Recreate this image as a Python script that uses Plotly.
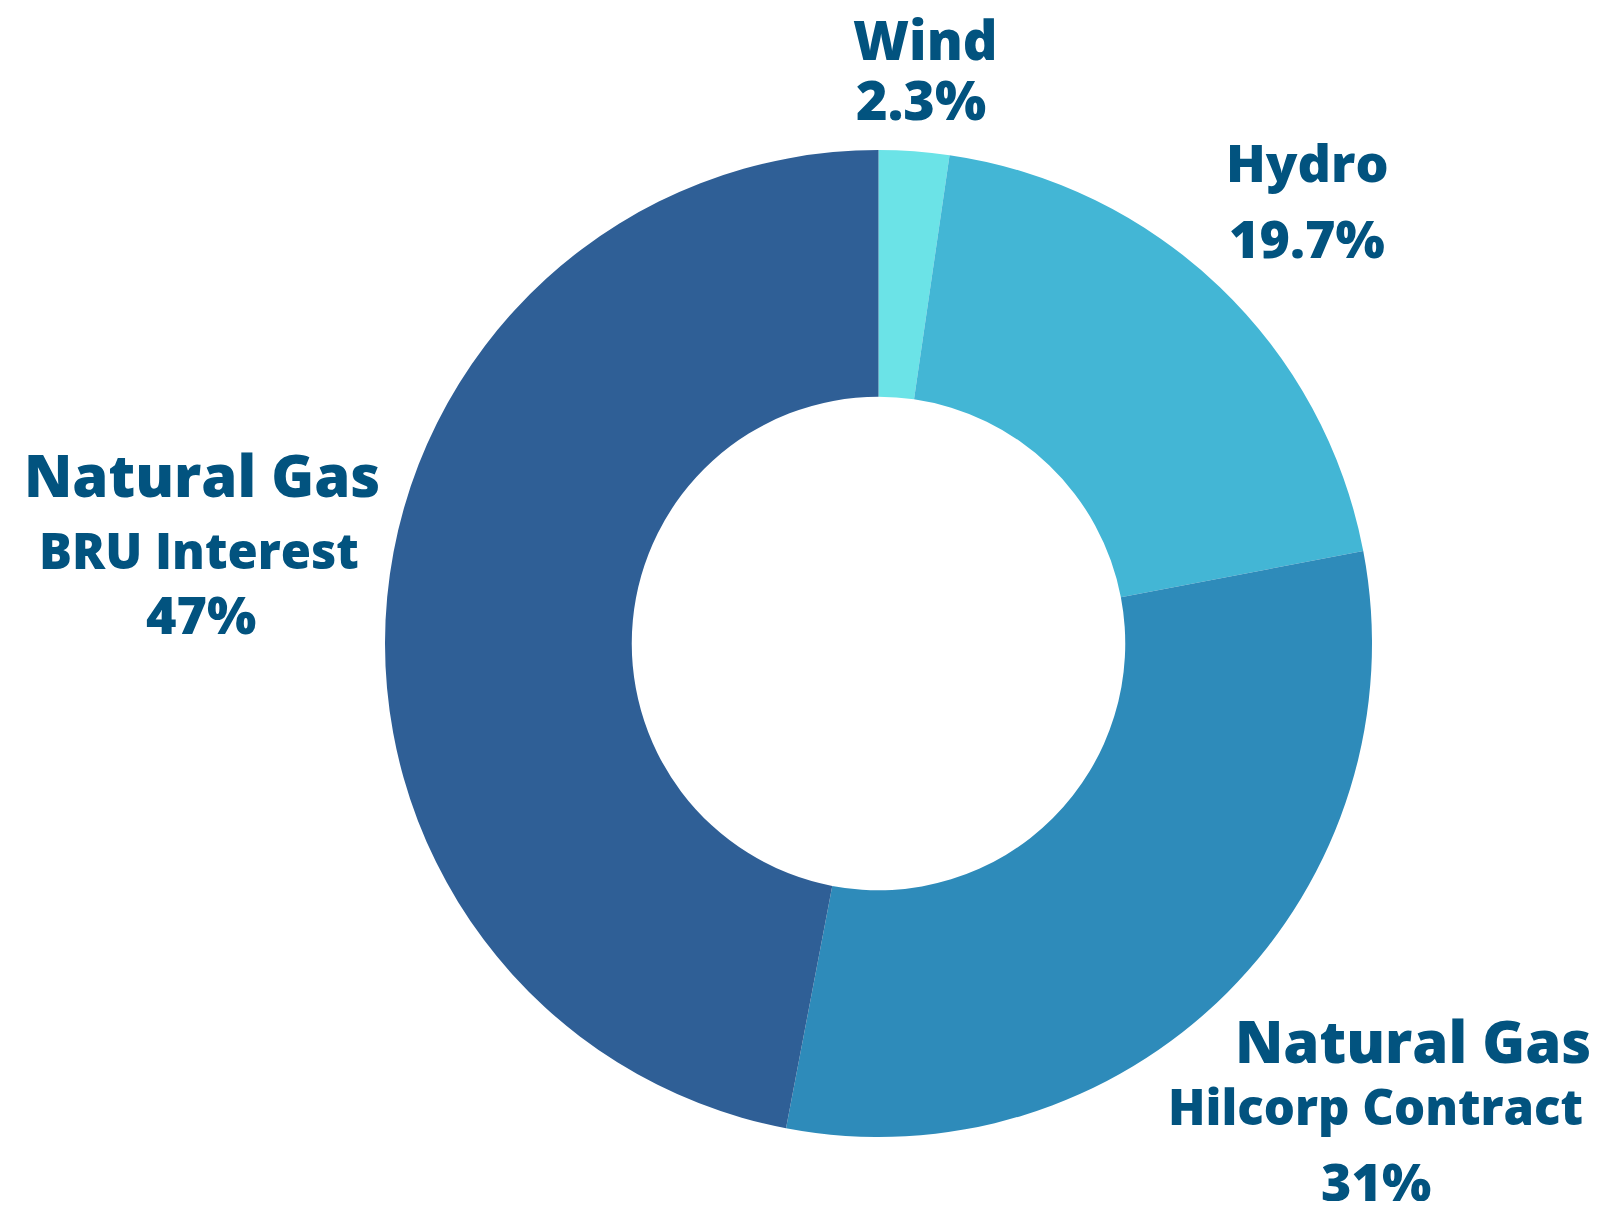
import plotly.graph_objects as go

W, H = 1603, 1209
OFF = 8  # page body margin
FW, FH = W - 2 * OFF, H - 2 * OFF

categories = ["Wind", "Hydro", "Natural Gas Hilcorp Contract", "Natural Gas BRU Interest"]
values = [2.3, 19.7, 31, 47]
value_labels = ["2.3%", "19.7%", "31%", "47%"]
colors = ["#6BE3E7", "#43B6D5", "#2E8BBA", "#2F5F96"]

TEXT = "#02537F"
FONT = "Open Sans"

cx, cy, r = 878.5 - OFF, 643.5 - OFF, 493.5

fig = go.Figure(go.Pie(
    labels=categories,
    values=values,
    hole=0.5,
    sort=False,
    direction="clockwise",
    rotation=0,
    marker=dict(colors=colors, line=dict(width=0)),
    textinfo="none",
    hoverinfo="label+percent",
    showlegend=False,
    domain=dict(x=[(cx - r) / FW, (cx + r) / FW], y=[(FH - cy - r) / FH, (FH - cy + r) / FH]),
))

# label lines: (text, x_center_px, y_center_px, size) in page pixels
lines = [
    ("Wind", 925, 39, 54),
    (value_labels[0], 921, 99, 54),
    ("Hydro", 1307, 161, 52),
    (value_labels[1], 1307, 237, 52),
    ("Natural Gas", 202, 475, 58),
    ("BRU Interest", 199, 550, 49),
    (value_labels[3], 201, 613, 52),
    ("Natural Gas", 1413, 1040, 58),
    ("Hilcorp Contract", 1375, 1106, 49),
    (value_labels[2], 1376, 1180, 52),
]
for t, x, y, s in lines:
    fig.add_annotation(
        text=t, x=(x - OFF) / FW, y=1 - (y - OFF) / FH, xref="paper", yref="paper",
        xanchor="center", yanchor="middle", showarrow=False,
        font=dict(family=FONT, size=s, color=TEXT, weight=800),
    )

fig.update_layout(
    width=FW, height=FH,
    margin=dict(l=0, r=0, t=0, b=0),
    paper_bgcolor="white", plot_bgcolor="white",
)

fig.write_html("out.html")
